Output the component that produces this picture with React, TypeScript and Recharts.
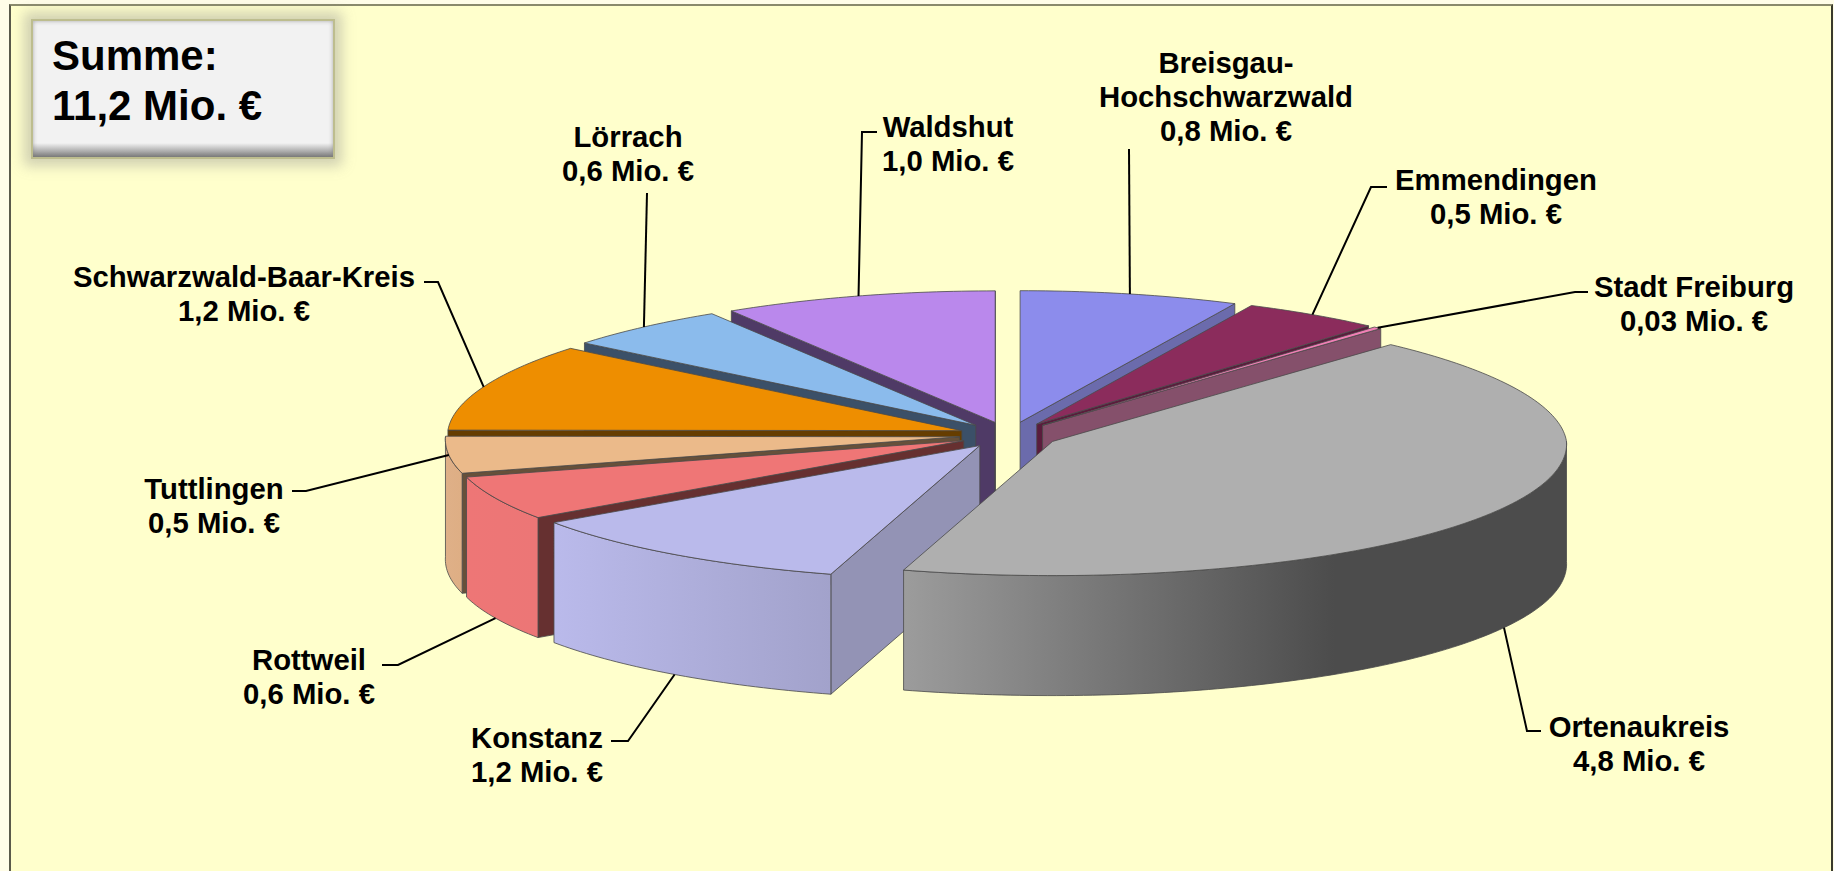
import React from 'react';
import { PieChart, Pie } from 'recharts';

// Kreise clockwise from 12 o'clock, values in Mio. EUR
const districts = [
  'Breisgau-\nHochschwarzwald',
  'Emmendingen',
  'Stadt Freiburg',
  'Ortenaukreis',
  'Konstanz',
  'Rottweil',
  'Tuttlingen',
  'Schwarzwald-Baar-Kreis',
  'Lörrach',
  'Waldshut',
];
const millions = [0.8, 0.5, 0.03, 4.8, 1.2, 0.6, 0.5, 1.2, 0.6, 1.0];
const totalLines = ['Summe:', '11,2 Mio. €'];

const rows = districts.map((name, i) => ({ name, value: millions[i] }));

const WIDTH = 1834;
const HEIGHT = 871;
const CX = 1009;
const CY = 435;
const RADIUS = 514;
const SQUASH_BACK = 0.256;
const SQUASH_FRONT = 0.261;
const PERSPECTIVE_BACK = 0.04;
const PERSPECTIVE_FRONT = 0.02;
const DEPTH = 120;
const EXPLODE = 50;

// painted back to front, the slices overlap
const paintOrder = [9, 0, 8, 1, 7, 2, 6, 5, 4, 3];

const topColors = ['#8C8CEC', '#8B2C5C', '#F07FB5', '#AFAFAF', '#BABAEB', '#EF7676', '#EBBA8A', '#EE8E00', '#8BBBEC', '#BA88EC'];
const wallColors = ['#6B6BAC', '#5A1C3C', '#85506B', '#555555', '#9393B5', '#663030', '#66503A', '#663D00', '#3B5068', '#4F3A66'];
const rimFrom = ['#8C8CEC', '#8B2C5C', '#F07FB5', '#9C9C9C', '#BABAEB', '#EE7676', '#DFB088', '#EE8E00', '#8BBBEC', '#BA88EC'];
const rimTo = ['#8C8CEC', '#8B2C5C', '#F07FB5', '#4C4C4C', '#A2A2CB', '#EC7676', '#DEAE84', '#EE8E00', '#8BBBEC', '#BA88EC'];
const rimStops = [1, 1, 1, 0.65, 1, 1, 1, 1, 1, 1];

// label centre, first line centre and the leader points from the text side to the pie
const labelLayout = [
  { x: 1226, y: 63, leader: [[1129, 149]] },
  { x: 1496, y: 180, leader: [[1387, 187], [1371, 187]] },
  { x: 1694, y: 287, leader: [[1588, 292], [1575, 292]] },
  { x: 1639, y: 727, leader: [[1541, 731], [1527, 731]] },
  { x: 537, y: 738, leader: [[611, 741], [628, 741]] },
  { x: 309, y: 660, leader: [[382, 665], [398, 665]] },
  { x: 214, y: 489, leader: [[292, 491], [306, 491]] },
  { x: 244, y: 277, leader: [[424, 282], [438, 282]] },
  { x: 628, y: 137, leader: [[647, 193]] },
  { x: 948, y: 127, leader: [[877, 132], [862, 132]] },
];

const toRad = (deg: number) => (deg * Math.PI) / 180;

const centreOf = (mid: number) => ({
  x: CX + EXPLODE * Math.sin(toRad(mid)),
  y: CY - EXPLODE * SQUASH_FRONT * Math.cos(toRad(mid)),
});

// the far side of the pie is a little narrower on screen
const rimPoint = (c: { x: number; y: number }, deg: number, drop = 0) => {
  const cos = Math.cos(toRad(deg));
  const back = cos > 0;
  return {
    x: c.x + (RADIUS * Math.sin(toRad(deg))) / (1 + (back ? PERSPECTIVE_BACK : PERSPECTIVE_FRONT) * cos),
    y: c.y - RADIUS * (back ? SQUASH_BACK : SQUASH_FRONT) * cos + drop,
  };
};

const arc = (c: { x: number; y: number }, from: number, to: number, drop = 0) => {
  const steps = Math.max(2, Math.ceil(Math.abs(to - from)));
  return Array.from({ length: steps + 1 }, (_, i) => {
    const p = rimPoint(c, from + ((to - from) * i) / steps, drop);
    return `${p.x},${p.y}`;
  });
};

const Slice3D = (props: any) => {
  const { index, startAngle, endAngle } = props;
  // recharts angles run counter clockwise from 3 o'clock
  const a0 = 90 - startAngle;
  const a1 = 90 - endAngle;
  const c = centreOf((a0 + a1) / 2);
  const p0 = rimPoint(c, a0);
  const p1 = rimPoint(c, a1);
  const edge = { stroke: '#4a4a4a', strokeWidth: 1, strokeOpacity: 0.8, strokeLinejoin: 'round' as const };

  const wall = (p: { x: number; y: number }) =>
    `M${c.x},${c.y} L${p.x},${p.y} L${p.x},${p.y + DEPTH} L${c.x},${c.y + DEPTH} Z`;

  const lo = Math.max(a0, 90);
  const hi = Math.min(a1, 270);
  const rim = hi > lo ? `M${arc(c, lo, hi).join(' L')} L${arc(c, hi, lo, DEPTH).join(' L')} Z` : null;
  const gradId = `rim-${index}`;

  return (
    <g>
      <defs>
        <linearGradient id={gradId} x1="0" y1="0" x2="1" y2="0">
          <stop offset="0" stopColor={rimFrom[index]} />
          <stop offset={rimStops[index]} stopColor={rimTo[index]} />
          <stop offset="1" stopColor={rimTo[index]} />
        </linearGradient>
      </defs>
      {Math.sin(toRad(a0)) < 0 && <path d={wall(p0)} fill={wallColors[index]} {...edge} />}
      {Math.sin(toRad(a1)) > 0 && <path d={wall(p1)} fill={wallColors[index]} {...edge} />}
      {rim && <path d={rim} fill={`url(#${gradId})`} {...edge} />}
      <path d={`M${c.x},${c.y} L${arc(c, a0, a1).join(' L')} Z`} fill={topColors[index]} {...edge} />
    </g>
  );
};

const sliceShape = (slice: number) => (props: any) =>
  props.index === slice ? <Slice3D {...props} /> : <g />;

const renderLabel = (props: any) => {
  const { index, startAngle, endAngle } = props;
  const a0 = 90 - startAngle;
  const a1 = 90 - endAngle;
  const mid = (a0 + a1) / 2;
  const onRim = mid > 90 && mid < 250;
  const start = rimPoint(centreOf(mid), mid, onRim ? DEPTH : 0);
  const layout = labelLayout[index];
  const pts = [...layout.leader, [start.x, start.y]];
  const v = millions[index];
  const lines = [
    ...districts[index].split('\n'),
    `${v.toFixed(v < 0.1 ? 2 : 1).replace('.', ',')} Mio. €`,
  ];
  return (
    <g key={index}>
      <polyline points={pts.map((p) => p.join(',')).join(' ')} fill="none" stroke="#000" strokeWidth={2} />
      <text
        textAnchor="middle"
        fontFamily="'Liberation Sans', Arial, sans-serif"
        fontWeight="bold"
        fontSize={29.3}
        fill="#000"
      >
        {lines.map((line, i) => (
          <tspan key={line} x={layout.x} y={layout.y + 10 + i * 34}>
            {line}
          </tspan>
        ))}
      </text>
    </g>
  );
};

export default function App() {
  return (
    <div style={{ position: 'absolute', left: 0, top: 0, width: WIDTH, height: HEIGHT, background: '#FFFDE8', overflow: 'hidden' }}>
      <div
        style={{
          position: 'absolute',
          left: 9,
          top: 4,
          width: 1820,
          height: 880,
          background: '#FFFFCC',
          borderLeft: '2px solid #5a5a4a',
          borderTop: '2px solid #8a8a6c',
          borderRight: '2px solid #3a3a2c',
        }}
      />
      <div
        style={{
          position: 'absolute',
          left: 31,
          top: 19,
          width: 300,
          height: 136,
          border: '2px solid #BDBD8E',
          background: 'linear-gradient(to bottom, #F2F2F2 0, #F2F2F2 122px, #7C7C7C 136px)',
          boxShadow: '0 0 12px 7px rgba(140,140,140,0.4), inset 0 0 4px rgba(120,120,120,0.6)',
        }}
      />
      <div
        style={{
          position: 'absolute',
          left: 52,
          top: 31,
          fontFamily: "'Liberation Sans', Arial, sans-serif",
          fontWeight: 'bold',
          fontSize: 42,
          lineHeight: '50px',
          color: '#000',
          whiteSpace: 'nowrap',
        }}
      >
        {totalLines.map((line) => (
          <div key={line}>{line}</div>
        ))}
      </div>
      <div style={{ position: 'absolute', left: 0, top: 0 }}>
        <PieChart width={WIDTH} height={HEIGHT} margin={{ top: 0, right: 0, bottom: 0, left: 0 }}>
          {paintOrder.map((slice, i) => (
            <Pie
              key={slice}
              data={rows}
              dataKey="value"
              nameKey="name"
              cx={CX}
              cy={CY}
              innerRadius={0}
              outerRadius={RADIUS}
              startAngle={90}
              endAngle={-270}
              paddingAngle={0}
              stroke="none"
              rootTabIndex={-1}
              isAnimationActive={false}
              shape={sliceShape(slice)}
              activeShape={sliceShape(slice)}
              inactiveShape={sliceShape(slice)}
              labelLine={false}
              label={i === paintOrder.length - 1 ? renderLabel : false}
            />
          ))}
        </PieChart>
      </div>
    </div>
  );
}
